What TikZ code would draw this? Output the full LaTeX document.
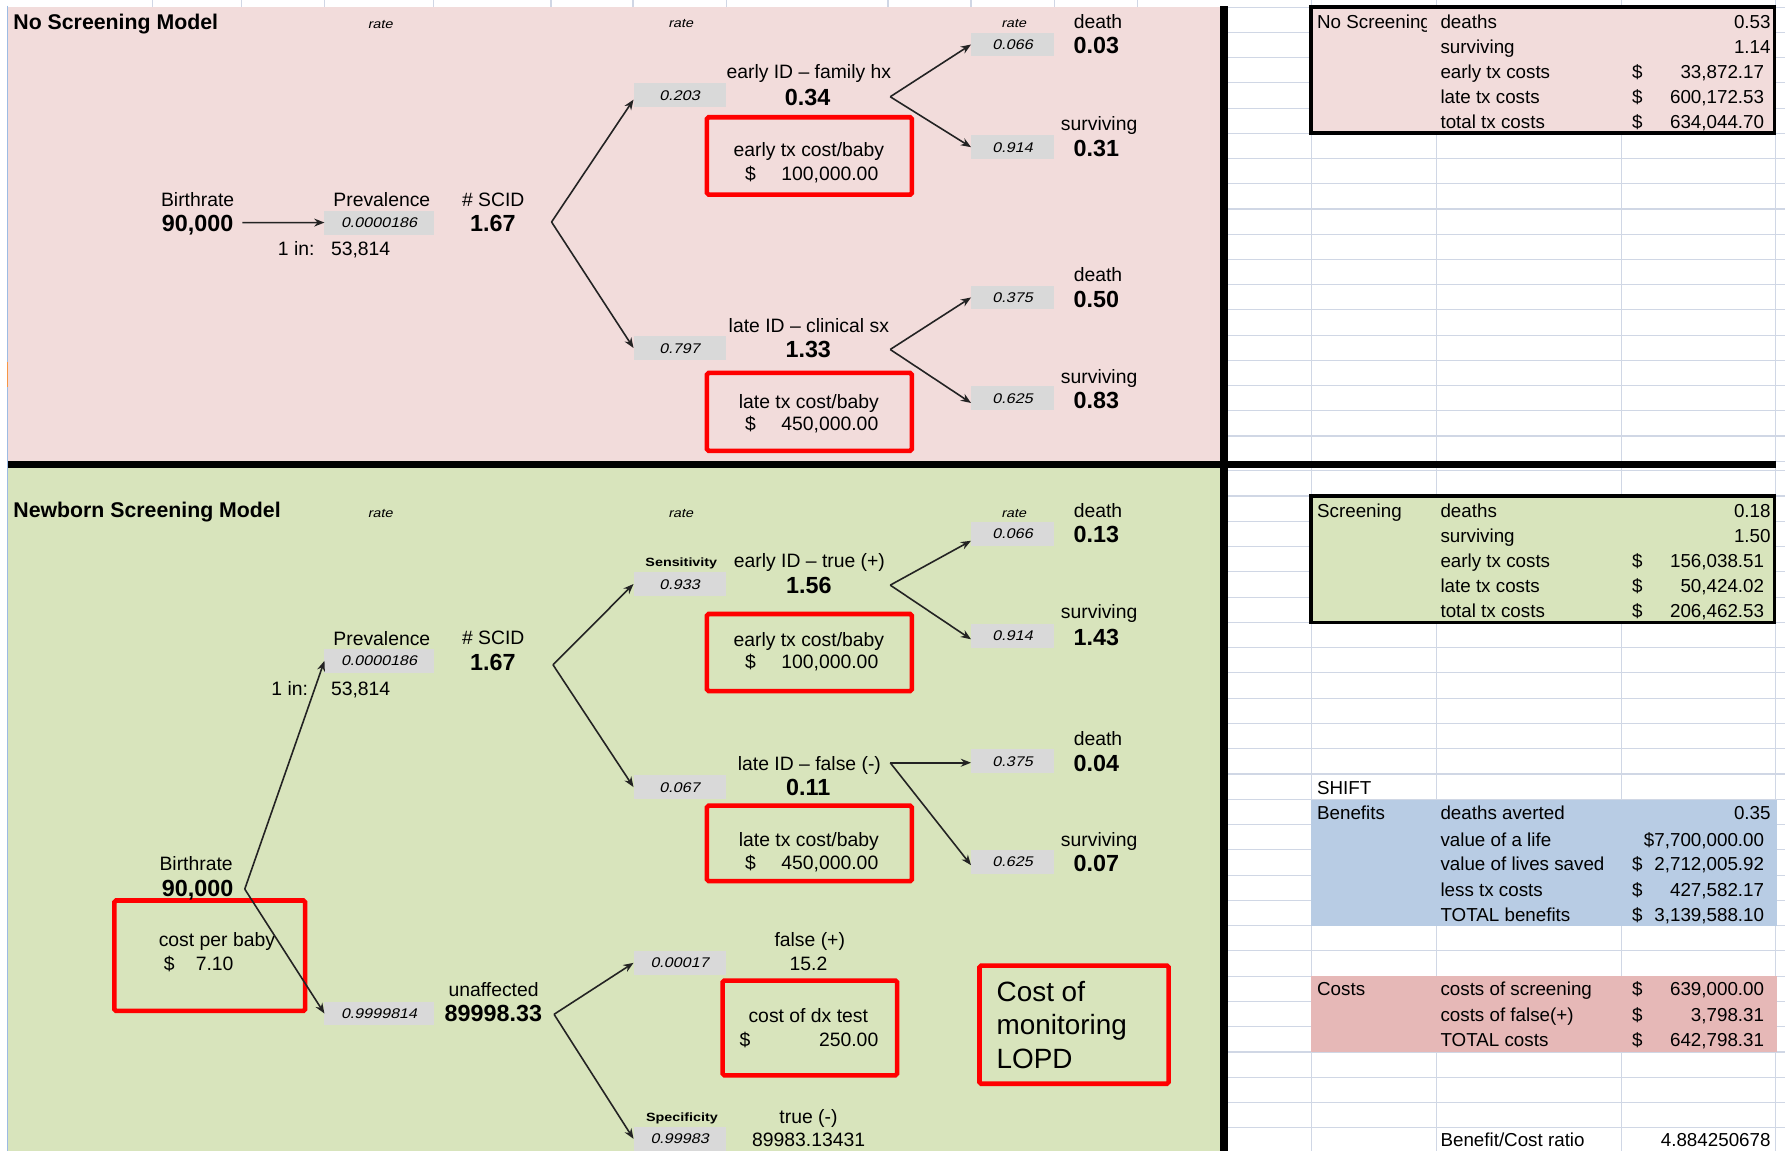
\documentclass[tikz,border=0pt]{standalone}
\usepackage{fontspec}
\setmainfont{Liberation Sans}
\newfontfamily\wideface[FakeStretch=1.2]{Liberation Sans}
\newfontfamily\wideslant[FakeStretch=1.15,FakeSlant=0.22]{Liberation Sans}
\usetikzlibrary{arrows.meta}

\definecolor{panelpink}{RGB}{242,220,219}
\definecolor{panelgreen}{RGB}{216,228,188}
\definecolor{cellgray}{RGB}{217,217,217}
\definecolor{gridcol}{RGB}{208,215,229}
\definecolor{benefitblue}{RGB}{184,204,228}
\definecolor{costpink}{RGB}{230,184,183}
\definecolor{sheetedge}{RGB}{157,187,227}
\definecolor{markorange}{RGB}{247,150,70}
\definecolor{arrowgray}{RGB}{35,35,35}

\tikzset{
  lbl/.style={font=\fontsize{17}{20}\selectfont, text height=12.2pt, text depth=0pt},
  val/.style={font=\bfseries\fontsize{20.5}{24}\selectfont, text height=14.7pt, text depth=0pt},
  ttl/.style={font=\bfseries\fontsize{18.7}{22}\selectfont, text height=13.4pt, text depth=0pt, anchor=west},
  ratehd/.style={font=\wideslant\fontsize{11}{13}\selectfont, text height=7.9pt, text depth=0pt},
  cell/.style={fill=cellgray, minimum width=81pt, minimum height=21pt,
    font=\wideslant\fontsize{12.3}{14}\selectfont, text height=8.8pt, text depth=0pt},
  widecell/.style={cell, minimum width=96pt},
  outcell/.style={cell, minimum width=73pt},
  testlbl/.style={font=\wideface\bfseries\fontsize{10.5}{12}\selectfont, text height=7.6pt, text depth=0pt},
  redbox/.style={draw=red, line width=4pt, rounded corners=1.5pt},
  arr/.style={draw=arrowgray, line width=1.4pt, -{Stealth[length=9pt,width=7pt]}},
  tbl/.style={font=\fontsize{16.5}{19}\selectfont, text height=11.8pt, text depth=0pt},
  memo/.style={font=\fontsize{24.5}{29}\selectfont, text height=17.5pt, text depth=0pt, anchor=west},
  gridln/.style={draw=gridcol, line width=1pt},
}

\begin{document}
\begin{tikzpicture}[x=1pt, y=-1pt, every node/.style={inner sep=0pt, outer sep=0pt}]
\useasboundingbox (0,0) rectangle (1568,1011);
\fill[white] (0,0) rectangle (1568,1011);

% ---------- spreadsheet grid on the right ----------
\foreach \gx in {1152,1262,1424,1560} \draw[gridln] (\gx,0) -- (\gx,1011);
\foreach \k in {0,...,18} \draw[gridln] (1078,{6.4+22.15*\k}) -- (1568,{6.4+22.15*\k});
\foreach \k in {0,...,26} \draw[gridln] (1078,{413.5+22.2*\k}) -- (1568,{413.5+22.2*\k});
\foreach \gx in {134,212,285,381,484,556,638,780,853,926,999} \draw[gridln] (\gx,0) -- (\gx,6);

% ---------- model panels ----------
\fill[panelpink] (7,5.9) rectangle (1072,405);
\fill[panelgreen] (7,411) rectangle (1072,1011);

% ---------- summary blocks ----------
\fill[panelpink] (1151.5,6) rectangle (1559,117);
\fill[panelgreen] (1151.5,435.7) rectangle (1559,547);
\fill[benefitblue] (1151.6,702.8) rectangle (1560.8,813.4);
\fill[costpink] (1151.6,857.4) rectangle (1560.8,923.8);
\draw[black, line width=3pt] (1151.5,6) rectangle (1559,117);
\draw[black, line width=3pt] (1151.5,435.7) rectangle (1559,547);

% ---------- dividers ----------
\fill[black] (1071.5,5.5) rectangle (1078.5,1011);
\fill[black] (7,404.7) rectangle (1560.5,411.2);
\draw[sheetedge, line width=1.3pt] (6.5,5) -- (6.5,1011);
\draw[markorange, line width=1.5pt] (6.5,318) -- (6.5,340);

% ---------- highlighted cost inputs ----------
\node[redbox, minimum width=180pt, minimum height=68pt] (boxEarlyA) at (711,137) {};
\node[redbox, minimum width=180pt, minimum height=68.4pt] (boxLateA) at (711,361.8) {};
\node[redbox, minimum width=180pt, minimum height=67.7pt] (boxEarlyB) at (711,573.2) {};
\node[redbox, minimum width=180pt, minimum height=66.3pt] (boxLateB) at (711,740.9) {};
\node[redbox, minimum width=167.5pt, minimum height=97pt] (boxBaby) at (184.25,839.5) {};
\node[redbox, minimum width=153.2pt, minimum height=83.3pt] (boxDx) at (711.4,903) {};
\node[redbox, minimum width=166.2pt, minimum height=103.8pt] (boxLopd) at (943.5,900.1) {};

% ================= No Screening Model =================
\node[ttl] (titleA) at (11.8,19) {No Screening Model};
\node[ratehd] (rateA1) at (334,21) {rate};
\node[ratehd] (rateA2) at (598,20.5) {rate};
\node[ratehd] (rateA3) at (890.5,20.5) {rate};

\node[lbl] (birthLabA) at (173.6,175.7) {Birthrate};
\node[val] (birthA) at (173.6,195.6) {90,000};
\node[lbl] (prevLabA) at (335.4,175.7) {Prevalence};
\node[widecell] (prevA) at (333,195.5) {0.0000186};
\node[lbl, anchor=east] (oneinA) at (276.3,218) {1 in:};
\node[lbl, anchor=west] (invA) at (290.8,218) {53,814};
\node[lbl] (scidLabA) at (433.3,175.7) {\# SCID};
\node[val] (scidA) at (433,195.6) {1.67};
\coordinate (forkA) at (484.5,195);

\node[cell] (pEarlyA) at (597,83.5) {0.203};
\node[lbl] (earlyLabA) at (710.5,63) {early ID – family hx};
\node[val] (earlyA) at (709.5,85) {0.34};
\node[lbl] (ecLabA) at (710.5,131.8) {early tx cost/baby};
\node[lbl, anchor=west] (ecDolA) at (654.6,152.3) {\$};
\node[lbl, anchor=east] (ecA) at (771.5,152.3) {100,000.00};

\node[cell] (pLateA) at (597,305.7) {0.797};
\node[lbl] (lateLabA) at (710.5,286.4) {late ID – clinical sx};
\node[val] (lateA) at (710,307) {1.33};
\node[lbl] (lcLabA) at (710.5,352.8) {late tx cost/baby};
\node[lbl, anchor=west] (lcDolA) at (654.6,371.9) {\$};
\node[lbl, anchor=east] (lcA) at (771.5,371.9) {450,000.00};

\coordinate (forkEA) at (782,85);
\coordinate (forkLA) at (782,307);
\node[outcell] (pEDA) at (889.5,39.1) {0.066};
\node[outcell] (pESA) at (889.5,129.3) {0.914};
\node[outcell] (pLDA) at (889.5,261.3) {0.375};
\node[outcell] (pLSA) at (889.5,350) {0.625};
\node[lbl] (deathEA) at (964.5,19) {death};
\node[val] (deathEAv) at (963,39.5) {0.03};
\node[lbl] (survEA) at (965.5,108.3) {surviving};
\node[val] (survEAv) at (963,130.4) {0.31};
\node[lbl] (deathLA) at (964.5,241.6) {death};
\node[val] (deathLAv) at (963,263) {0.50};
\node[lbl] (survLA) at (965.5,331) {surviving};
\node[val] (survLAv) at (963,351.4) {0.83};

\draw[arr] ([xshift=8pt]birthA.east) -- (prevA.west);
\draw[arr] (forkA) -- ([yshift=-4pt]pEarlyA.west);
\draw[arr] (forkA) -- (pLateA.west);
\draw[arr] (forkEA) -- (pEDA.west);
\draw[arr] (forkEA) -- (pESA.west);
\draw[arr] (forkLA) -- (pLDA.west);
\draw[arr] (forkLA) -- ([yshift=-4pt]pLSA.west);

% ================= Newborn Screening Model =================
\node[ttl] (titleB) at (11.8,448) {Newborn Screening Model};
\node[ratehd] (rateB1) at (334,450.4) {rate};
\node[ratehd] (rateB2) at (598,450.3) {rate};
\node[ratehd] (rateB3) at (890.5,450.3) {rate};

\node[lbl] (birthLabB) at (172.3,759) {Birthrate};
\node[val] (birthB) at (173.6,780.3) {90,000};
\coordinate (forkB0) at (215,781);
\node[lbl, anchor=west] (babyLab) at (139.5,825.7) {cost per baby};
\node[lbl, anchor=west] (babyDol) at (143.9,846.2) {\$};
\node[lbl, anchor=west] (baby) at (172,846.2) {7.10};

\node[lbl] (prevLabB) at (335.4,560.7) {Prevalence};
\node[widecell] (prevB) at (333,580.5) {0.0000186};
\node[lbl, anchor=east] (oneinB) at (270.6,604.6) {1 in:};
\node[lbl, anchor=west] (invB) at (290.8,604.6) {53,814};
\node[lbl] (scidLabB) at (433.3,560.3) {\# SCID};
\node[val] (scidB) at (433,581.2) {1.67};
\coordinate (forkB1) at (485.8,584);

\node[widecell] (pUnaff) at (333,890.3) {0.9999814};
\node[lbl] (unaffLab) at (433.6,869.6) {unaffected};
\node[val] (unaff) at (433.4,890.1) {89998.33};
\coordinate (forkB2) at (486.7,891);

\node[testlbl] (sensLab) at (598.5,493.4) {Sensitivity};
\node[cell] (pSens) at (597,513) {0.933};
\node[lbl] (tpLab) at (711,492.8) {early ID – true (+)};
\node[val] (tp) at (710.5,514) {1.56};
\node[lbl] (ecLabB) at (710.5,561.6) {early tx cost/baby};
\node[lbl, anchor=west] (ecDolB) at (654.6,581.2) {\$};
\node[lbl, anchor=east] (ecB) at (771.5,581.2) {100,000.00};

\node[cell] (pFalseNeg) at (597,691.4) {0.067};
\node[lbl] (fnLab) at (711,670.5) {late ID – false (-)};
\node[val] (fn) at (710,691.6) {0.11};
\node[lbl] (lcLabB) at (710.5,737.3) {late tx cost/baby};
\node[lbl, anchor=west] (lcDolB) at (654.6,757.8) {\$};
\node[lbl, anchor=east] (lcB) at (771.5,757.8) {450,000.00};

\coordinate (forkEB) at (782,514);
\coordinate (forkLB) at (782,670);
\node[outcell] (pEDB) at (889.5,469) {0.066};
\node[outcell] (pESB) at (889.5,558.6) {0.914};
\node[outcell] (pLDB) at (889.5,668.6) {0.375};
\node[outcell] (pLSB) at (889.5,757) {0.625};
\node[lbl] (deathEB) at (964.5,448.6) {death};
\node[val] (deathEBv) at (963,469) {0.13};
\node[lbl] (survEB) at (965.5,537.3) {surviving};
\node[val] (survEBv) at (963,559.3) {1.43};
\node[lbl] (deathLB) at (964.5,648.6) {death};
\node[val] (deathLBv) at (963,670) {0.04};
\node[lbl] (survLB) at (965.5,737.9) {surviving};
\node[val] (survLBv) at (963,758.4) {0.07};

\node[cell] (pFalsePos) at (597,845.8) {0.00017};
\node[lbl] (fpLab) at (711.3,825.1) {false (+)};
\node[lbl] (fp) at (710.2,846.8) {15.2};
\node[lbl] (dxLab) at (710,892.2) {cost of dx test};
\node[lbl, anchor=west] (dxDol) at (649.6,913) {\$};
\node[lbl, anchor=east] (dx) at (771.5,913) {250.00};

\node[testlbl] (specLab) at (599,981) {Specificity};
\node[cell] (pSpec) at (597,1000.4) {0.99983};
\node[lbl] (tnLab) at (710.2,980.6) {true (-)};
\node[lbl] (tn) at (710.3,1001.4) {89983.13431};

\node[memo] (lopd1) at (875.5,871) {Cost of};
\node[memo] (lopd2) at (875.5,900.4) {monitoring};
\node[memo] (lopd3) at (875.5,929.7) {LOPD};

\draw[arr] (forkB0) -- (prevB.west);
\draw[arr] (forkB0) -- (pUnaff.west);
\draw[arr] (forkB1) -- (pSens.west);
\draw[arr] (forkB1) -- (pFalseNeg.west);
\draw[arr] (forkEB) -- ([yshift=-6pt]pEDB.west);
\draw[arr] (forkEB) -- ([yshift=-3pt]pESB.west);
\draw[arr] (forkLB) -- (pLDB.west |- forkLB);
\draw[arr] (forkLB) -- ([yshift=-3pt]pLSB.west);
\draw[arr] (forkB2) -- (pFalsePos.west);
\draw[arr] (forkB2) -- (pSpec.west);

% ================= summary tables =================
\begin{scope}
  \clip (1152,6) rectangle (1253,30);
  \node[tbl, anchor=west] (nsName) at (1157,19) {No Screening};
\end{scope}
\node[tbl, anchor=west] (nsL1) at (1265.4,19) {deaths};
\node[tbl, anchor=west] (nsL2) at (1265.4,41) {surviving};
\node[tbl, anchor=west] (nsL3) at (1265.4,63) {early tx costs};
\node[tbl, anchor=west] (nsL4) at (1265.4,85) {late tx costs};
\node[tbl, anchor=west] (nsL5) at (1265.4,107) {total tx costs};
\node[tbl, anchor=east] (nsV1) at (1555.3,19) {0.53};
\node[tbl, anchor=east] (nsV2) at (1555.3,41) {1.14};
\node[tbl, anchor=west] (nsD3) at (1433.6,63) {\$};
\node[tbl, anchor=west] (nsD4) at (1433.6,85) {\$};
\node[tbl, anchor=west] (nsD5) at (1433.6,107) {\$};
\node[tbl, anchor=east] (nsV3) at (1549.6,63) {33,872.17};
\node[tbl, anchor=east] (nsV4) at (1549.6,85) {600,172.53};
\node[tbl, anchor=east] (nsV5) at (1549.6,107) {634,044.70};

\node[tbl, anchor=west] (scName) at (1157,448.6) {Screening};
\node[tbl, anchor=west] (scL1) at (1265.4,448.6) {deaths};
\node[tbl, anchor=west] (scL2) at (1265.4,470.8) {surviving};
\node[tbl, anchor=west] (scL3) at (1265.4,492.5) {early tx costs};
\node[tbl, anchor=west] (scL4) at (1265.4,514.8) {late tx costs};
\node[tbl, anchor=west] (scL5) at (1265.4,536.4) {total tx costs};
\node[tbl, anchor=east] (scV1) at (1555.3,448.6) {0.18};
\node[tbl, anchor=east] (scV2) at (1555.3,470.8) {1.50};
\node[tbl, anchor=west] (scD3) at (1433.6,492.5) {\$};
\node[tbl, anchor=west] (scD4) at (1433.6,514.8) {\$};
\node[tbl, anchor=west] (scD5) at (1433.6,536.4) {\$};
\node[tbl, anchor=east] (scV3) at (1549.6,492.5) {156,038.51};
\node[tbl, anchor=east] (scV4) at (1549.6,514.8) {50,424.02};
\node[tbl, anchor=east] (scV5) at (1549.6,536.4) {206,462.53};

\node[tbl, anchor=west] (shift) at (1157,691.6) {SHIFT};
\node[tbl, anchor=west] (bnName) at (1157,714.4) {Benefits};
\node[tbl, anchor=west] (bnL1) at (1265.4,714.4) {deaths averted};
\node[tbl, anchor=west] (bnL2) at (1265.4,737.3) {value of a life};
\node[tbl, anchor=west] (bnL3) at (1265.4,759) {value of lives saved};
\node[tbl, anchor=west] (bnL4) at (1265.4,781.2) {less tx costs};
\node[tbl, anchor=west] (bnL5) at (1265.4,803.2) {TOTAL benefits};
\node[tbl, anchor=east] (bnV1) at (1555.3,714.4) {0.35};
\node[tbl, anchor=east] (bnV2) at (1549.6,737.3) {\$7,700,000.00};
\node[tbl, anchor=west] (bnD3) at (1433.6,759) {\$};
\node[tbl, anchor=west] (bnD4) at (1433.6,781.2) {\$};
\node[tbl, anchor=west] (bnD5) at (1433.6,803.2) {\$};
\node[tbl, anchor=east] (bnV3) at (1549.6,759) {2,712,005.92};
\node[tbl, anchor=east] (bnV4) at (1549.6,781.2) {427,582.17};
\node[tbl, anchor=east] (bnV5) at (1549.6,803.2) {3,139,588.10};

\node[tbl, anchor=west] (csName) at (1157,869) {Costs};
\node[tbl, anchor=west] (csL1) at (1265.4,869) {costs of screening};
\node[tbl, anchor=west] (csL2) at (1265.4,891.6) {costs of false(+)};
\node[tbl, anchor=west] (csL3) at (1265.4,913.6) {TOTAL costs};
\node[tbl, anchor=west] (csD1) at (1433.6,869) {\$};
\node[tbl, anchor=west] (csD2) at (1433.6,891.6) {\$};
\node[tbl, anchor=west] (csD3) at (1433.6,913.6) {\$};
\node[tbl, anchor=east] (csV1) at (1549.6,869) {639,000.00};
\node[tbl, anchor=east] (csV2) at (1549.6,891.6) {3,798.31};
\node[tbl, anchor=east] (csV3) at (1549.6,913.6) {642,798.31};

\node[tbl, anchor=west] (ratioLab) at (1265.4,1000.8) {Benefit/Cost ratio};
\node[tbl, anchor=east] (ratio) at (1555.3,1000.8) {4.884250678};
\end{tikzpicture}
\end{document}
